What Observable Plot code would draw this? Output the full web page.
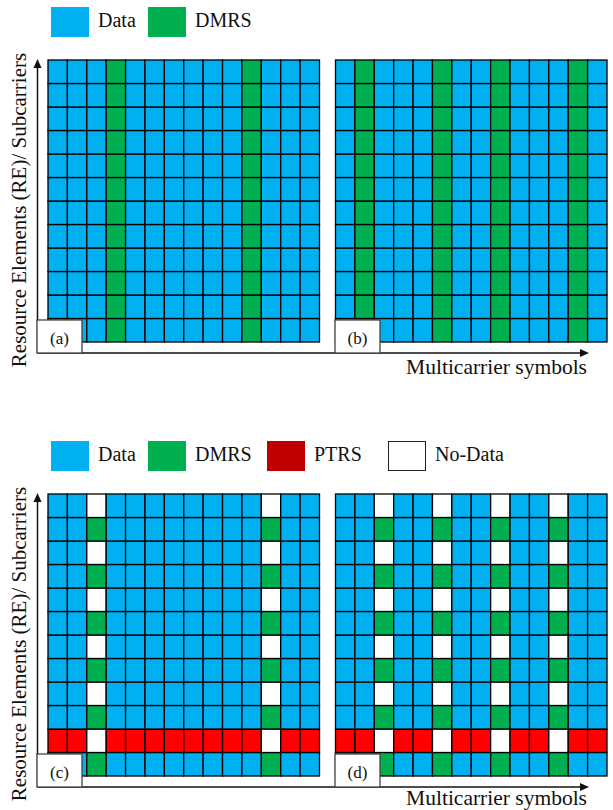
<!DOCTYPE html>
<html>
<head>
<meta charset="utf-8">
<script src="https://cdn.jsdelivr.net/npm/d3@7"></script>
<script src="https://cdn.jsdelivr.net/npm/@observablehq/plot@0.6"></script>
<style>
  html, body { margin: 0; padding: 0; background: #fff; }
  #figure { position: relative; width: 613px; height: 810px; overflow: hidden;
            font-family: "Liberation Serif", "LiberationSerif", Tinos, "Times New Roman", Times, "DejaVu Serif", serif; color: #111; }
  #figure svg text { font-family: "Liberation Serif", "LiberationSerif", Tinos, "Times New Roman", Times, "DejaVu Serif", serif; }
  .section { position: absolute; left: 0; width: 613px; height: 376px; }
  .section > svg { position: absolute; left: 0; top: 0; }
  .legend-swatch { position: absolute; top: 7px; width: 38px; height: 30px; box-sizing: border-box; }
  .legend-label { position: absolute; top: 5px; height: 30px; line-height: 30px; font-size: 20px; white-space: nowrap; }
</style>
</head>
<body>
<div id="figure"></div>
<script>
// Resource grid: 14 multicarrier symbols x 12 subcarriers per panel
const symbols = [0, 1, 2, 3, 4, 5, 6, 7, 8, 9, 10, 11, 12, 13];
const subcarriers = [0, 1, 2, 3, 4, 5, 6, 7, 8, 9, 10, 11];

// Resource element types and their fills
const reTypes = ["Data", "DMRS", "PTRS", "No-Data"];
const cellColors = ["#00B0F0", "#00B050", "#FF0000", "#FFFFFF"];
const legendColors = ["#00B0F0", "#00B050", "#C00000", "#FFFFFF"];

// Symbols carrying DMRS in each configuration
const dmrsSymbolsA = [3, 10];
const dmrsSymbolsB = [1, 5, 8, 12];
const dmrsSymbolsC = [2, 11];
const dmrsSymbolsD = [2, 5, 8, 11];

// Comb-type DMRS (c, d): DMRS on even subcarriers, odd subcarriers left empty
const dmrsCombSubcarriers = [0, 2, 4, 6, 8, 10];
// PTRS subcarrier in the non-DMRS symbols of (c, d)
const ptrsSubcarrier = 1;

const panelNames = ["(a)", "(b)", "(c)", "(d)"];
const legendTop = ["Data", "DMRS"];
const legendBottom = ["Data", "DMRS", "PTRS", "No-Data"];
const xAxisTitle = "Multicarrier symbols";
const yAxisTitle = "Resource Elements (RE)/ Subcarriers";

// Build the cell table for one panel
function fullDmrsPanel(panel, dmrs) {
  const rows = [];
  for (const s of symbols) for (const k of subcarriers)
    rows.push({panel, symbol: s, subcarrier: k, type: dmrs.includes(s) ? "DMRS" : "Data"});
  return rows;
}
function combDmrsPanel(panel, dmrs) {
  const rows = [];
  for (const s of symbols) for (const k of subcarriers) {
    let type;
    if (dmrs.includes(s)) type = dmrsCombSubcarriers.includes(k) ? "DMRS" : "No-Data";
    else type = k === ptrsSubcarrier ? "PTRS" : "Data";
    rows.push({panel, symbol: s, subcarrier: k, type});
  }
  return rows;
}

const topCells = [...fullDmrsPanel("(a)", dmrsSymbolsA), ...fullDmrsPanel("(b)", dmrsSymbolsB)];
const bottomCells = [...combDmrsPanel("(c)", dmrsSymbolsC), ...combDmrsPanel("(d)", dmrsSymbolsD)];

// Layout of one section (pixels, relative to the section)
const W = 613, H = 376;
const gridTop = 60, gridBottom = 342, gridLeft = 48, gridRight = 607, panelGap = 16;
const axisX = 37.5, axisY = 353, arrowTipX = 589;
const legendX = {"Data": [51, 98], "DMRS": [148, 195], "PTRS": [267, 314], "No-Data": [388, 435]};

function grid(cells, panels) {
  const band = (gridRight - gridLeft + panelGap) / 2;
  return Plot.plot({
    width: W, height: H,
    marginTop: gridTop, marginBottom: H - gridBottom, marginLeft: gridLeft, marginRight: W - gridRight,
    style: {background: "transparent", overflow: "visible"},
    facet: {data: cells, x: "panel"},
    fx: {domain: panels, axis: null, label: null, paddingInner: panelGap / band, paddingOuter: 0, round: false},
    x: {type: "band", domain: symbols, padding: 0, axis: null, round: false},
    y: {type: "band", domain: subcarriers.slice().reverse(), padding: 0, axis: null, round: false},
    color: {domain: reTypes, range: cellColors},
    marks: [
      Plot.cell(cells, {x: "symbol", y: "subcarrier", fill: "type", stroke: "#000", strokeWidth: 1.3})
    ]
  });
}

function overlay(panels, titleBaseline) {
  const svg = d3.create("svg").attr("width", W).attr("height", H).style("overflow", "visible");
  // axes with arrowheads
  svg.append("line").attr("x1", axisX).attr("x2", arrowTipX - 8).attr("y1", axisY).attr("y2", axisY)
    .attr("stroke", "#111").attr("stroke-width", 1.5);
  svg.append("path").attr("d", `M${arrowTipX},${axisY} L${arrowTipX - 9},${axisY - 4} L${arrowTipX - 9},${axisY + 4} Z`).attr("fill", "#111");
  svg.append("line").attr("x1", axisX).attr("x2", axisX).attr("y1", axisY).attr("y2", gridTop + 8)
    .attr("stroke", "#111").attr("stroke-width", 1.5);
  svg.append("path").attr("d", `M${axisX},${gridTop - 1} L${axisX - 4},${gridTop + 8} L${axisX + 4},${gridTop + 8} Z`).attr("fill", "#111");
  // axis titles
  svg.append("text").attr("x", 587).attr("y", titleBaseline).attr("text-anchor", "end")
    .attr("font-size", 21.5).attr("fill", "#111").text(xAxisTitle);
  svg.append("text").attr("transform", "translate(26,210) rotate(-90)").attr("text-anchor", "middle")
    .attr("font-size", 21).attr("fill", "#111").text(yAxisTitle);
  // panel tags
  const boxes = [[37, 45], [335, 45]];
  panels.forEach((p, i) => {
    const [bx, bw] = boxes[i];
    svg.append("rect").attr("x", bx).attr("y", 320).attr("width", bw).attr("height", 33)
      .attr("fill", "#fff").attr("stroke", "#444").attr("stroke-width", 1.3);
    svg.append("text").attr("x", bx + bw / 2).attr("y", 343.5).attr("text-anchor", "middle")
      .attr("font-size", 17).attr("fill", "#111").text(p);
  });
  return svg.node();
}

function legend(items) {
  const div = document.createElement("div");
  for (const name of items) {
    const i = reTypes.indexOf(name);
    const [sx, tx] = legendX[name];
    const sw = document.createElement("div");
    sw.className = "legend-swatch";
    sw.style.left = sx + "px";
    sw.style.background = legendColors[i];
    if (name === "No-Data") sw.style.border = "1.5px solid #222";
    const lb = document.createElement("div");
    lb.className = "legend-label";
    lb.style.left = tx + "px";
    lb.textContent = name;
    div.append(sw, lb);
  }
  return div;
}

const fig = document.getElementById("figure");
[[topCells, panelNames.slice(0, 2), legendTop, 0, 374], [bottomCells, panelNames.slice(2), legendBottom, 434, 371]]
  .forEach(([cells, panels, items, top, titleBaseline]) => {
    const sec = document.createElement("div");
    sec.className = "section";
    sec.style.top = top + "px";
    sec.append(grid(cells, panels));
    sec.append(overlay(panels, titleBaseline));
    sec.append(legend(items));
    fig.append(sec);
  });
</script>
</body>
</html>
